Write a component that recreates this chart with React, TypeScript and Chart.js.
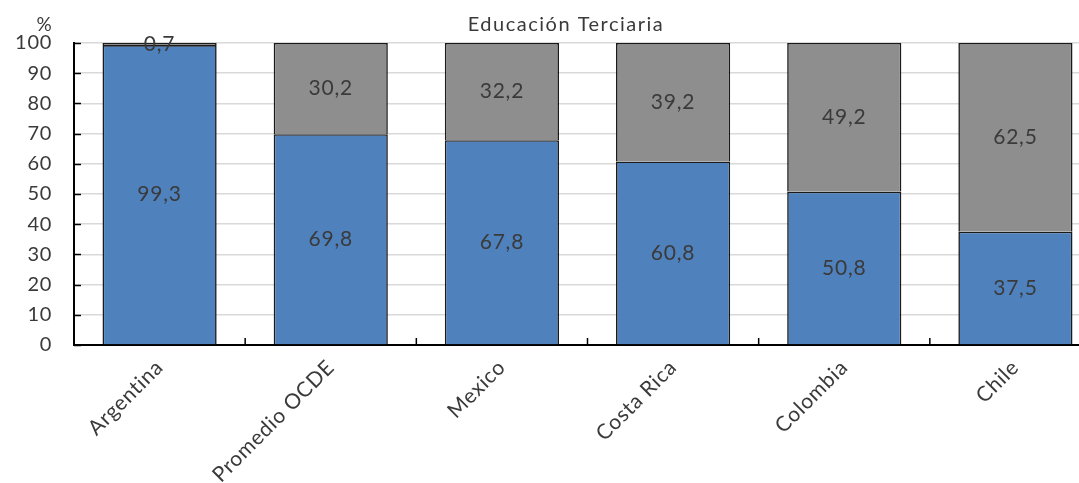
import React, { useEffect, useRef } from "react";
import { Chart, registerables } from "chart.js";

Chart.register(...registerables);

const categories = ["Argentina", "Promedio OCDE", "Mexico", "Costa Rica", "Colombia", "Chile"];
const blueValues = [99.3, 69.8, 67.8, 60.8, 50.8, 37.5];
const grayValues = [0.7, 30.2, 32.2, 39.2, 49.2, 62.5];
const chartTitle = "Educación Terciaria";
const unitLabel = "%";

const FONT = "Lato, 'Open Sans', sans-serif";
const TEXT = "#3a3a3a";

const decor = {
  id: "decor",
  beforeDraw(chart: any) {
    chart.ctx.letterSpacing = "0.7px";
  },
  afterDatasetsDraw(chart: any) {
    const { ctx, chartArea, scales } = chart;
    ctx.save();
    ctx.strokeStyle = "#000";
    ctx.lineWidth = 1.5;
    const yScale = scales.y;
    yScale.ticks.forEach((t: any) => {
      const y = Math.round(yScale.getPixelForValue(t.value)) + 0.5;
      ctx.beginPath();
      ctx.moveTo(chartArea.left, y);
      ctx.lineTo(chartArea.left + 7, y);
      ctx.stroke();
    });
    const xScale = scales.x;
    for (let i = 1; i < categories.length; i++) {
      const x = (xScale.getPixelForValue(i - 1) + xScale.getPixelForValue(i)) / 2;
      ctx.beginPath();
      ctx.moveTo(x, chartArea.bottom);
      ctx.lineTo(x, chartArea.bottom - 7);
      ctx.stroke();
    }
    ctx.fillStyle = TEXT;
    ctx.letterSpacing = "0.8px";
    ctx.font = `21px ${FONT}`;
    ctx.textAlign = "center";
    ctx.textBaseline = "middle";
    chart.data.datasets.forEach((ds: any, di: number) => {
      const meta = chart.getDatasetMeta(di);
      meta.data.forEach((el: any, i: number) => {
        const v = ds.data[i];
        const cy = (el.y + el.base) / 2;
        ctx.fillText(v.toFixed(1).replace(".", ","), el.x, cy);
      });
    });
    ctx.textBaseline = "alphabetic";
    ctx.letterSpacing = "1.5px";
    ctx.font = `20px ${FONT}`;
    ctx.fillText(chartTitle, 566, 31);
    ctx.letterSpacing = "0px";
    ctx.font = `19px ${FONT}`;
    ctx.fillText(unitLabel, 44, 31);
    ctx.restore();
  },
};

export default function App() {
  const ref = useRef<HTMLCanvasElement>(null);
  useEffect(() => {
    document.body.style.margin = "0";
    const chart = new Chart(ref.current!, {
      type: "bar",
      data: {
        labels: categories,
        datasets: [
          {
            data: blueValues,
            backgroundColor: "#4F81BD",
            borderColor: "#1a1a1a",
            borderWidth: 1.6,
            barPercentage: 0.667,
            categoryPercentage: 1,
          },
          {
            data: grayValues,
            backgroundColor: "#8E8E8E",
            borderColor: "#1a1a1a",
            borderWidth: 1.6,
            barPercentage: 0.667,
            categoryPercentage: 1,
          },
        ],
      },
      options: {
        animation: false,
        responsive: false,
        layout: { padding: { top: 43, right: 5, left: 0, bottom: 0 } },
        plugins: { legend: { display: false }, tooltip: { enabled: false }, title: { display: false } },
        scales: {
          x: {
            stacked: true,
            grid: { display: false, drawTicks: false },
            border: { color: "#000", width: 2 },
            ticks: {
              maxRotation: 45,
              minRotation: 45,
              padding: 10,
              color: TEXT,
              font: { family: FONT, size: 21 },
            },
            afterFit: (s: any) => {
              s.height = 138;
            },
          },
          y: {
            stacked: true,
            min: 0,
            max: 100,
            ticks: {
              stepSize: 10,
              padding: 22,
              color: TEXT,
              font: { family: FONT, size: 20 },
            },
            grid: { color: "#D9D9D9", lineWidth: 1.5, tickLength: 0 },
            border: { color: "#000", width: 2 },
            afterFit: (s: any) => {
              s.width = 74;
            },
          },
        },
      },
      plugins: [decor],
    });
    return () => chart.destroy();
  }, []);
  return (
    <div style={{ width: 1079, height: 483, background: "#fff", overflow: "hidden" }}>
      <canvas ref={ref} width={1106} height={483} style={{ display: "block" }} />
    </div>
  );
}
